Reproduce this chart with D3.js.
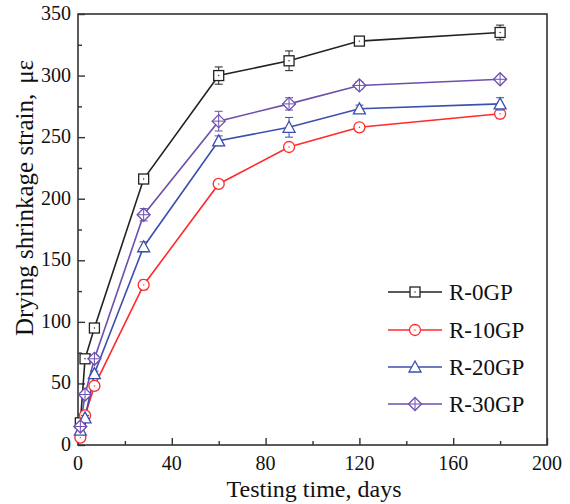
<!DOCTYPE html>
<html>
<head>
<meta charset="utf-8">
<script src="https://cdn.jsdelivr.net/npm/d3@7"></script>
<style>
  body { margin: 0; background: #fff; }
  text { font-family: "Liberation Serif", "Times New Roman", serif; fill: #111; }
</style>
</head>
<body>
<svg width="570" height="504"></svg>
<script>
// testing ages (days)
var days = [1, 3, 7, 28, 60, 90, 120, 180];

// drying shrinkage, microstrain
var r0 = [18, 70, 95, 216, 300, 312, 328, 335];
var r10 = [6, 24, 48, 130, 212, 242, 258, 269];
var r20 = [12, 22, 58, 161, 247, 258, 273, 277];
var r30 = [15, 41, 70, 187, 263, 277, 292, 297];

// error bar half-widths
var r0Err = [2, 3, 3, 3, 7, 8, 2, 6];
var r10Err = [2, 2, 2, 4, 3, 2, 2, 4];
var r20Err = [2, 2, 2, 4, 4, 8, 3, 5];
var r30Err = [2, 2, 3, 5, 8, 5, 3, 2];

var seriesNames = ["R-0GP", "R-10GP", "R-20GP", "R-30GP"];
var seriesColors = ["#222222", "#ff2a2a", "#3b4fae", "#6d4fae"];
var seriesShapes = ["square", "circle", "triangle", "diamond"];

var xTicks = [0, 40, 80, 120, 160, 200];
var yTicks = [0, 50, 100, 150, 200, 250, 300, 350];

var svg = d3.select("svg"),
  pLeft = 78, pRight = 547, pTop = 14, pBottom = 445;

var x = d3.scaleLinear().domain([0, 200]).range([pLeft, pRight]);
var y = d3.scaleLinear().domain([0, 350]).range([pBottom, pTop]);

var allVals = [r0, r10, r20, r30];
var allErr = [r0Err, r10Err, r20Err, r30Err];
var series = seriesNames.map((name, i) => ({
  name: name,
  color: seriesColors[i],
  shape: seriesShapes[i],
  points: days.map((d, j) => ({ day: d, val: allVals[i][j], err: allErr[i][j] }))
}));

// frame
svg.append("rect")
  .attr("x", pLeft).attr("y", pTop)
  .attr("width", pRight - pLeft).attr("height", pBottom - pTop)
  .attr("fill", "none").attr("stroke", "#333").attr("stroke-width", 1.6);

// x axis, ticks pointing inward
var xAxis = svg.append("g")
  .attr("transform", "translate(0," + pBottom + ")")
  .call(d3.axisBottom(x).tickValues(d3.range(0, 201, 20)).tickFormat(""));
xAxis.selectAll(".tick line").attr("stroke", "#333").attr("stroke-width", 1.4)
  .attr("y2", (d) => (d % 40 === 0 ? -7 : -4));
xAxis.select(".domain").remove();

svg.append("g").selectAll("text")
  .data(xTicks).enter().append("text")
  .attr("x", (d) => x(d)).attr("y", 470)
  .attr("text-anchor", "middle").attr("font-size", "20px")
  .text((d) => d);

// y axis
var yAxis = svg.append("g")
  .attr("transform", "translate(" + pLeft + ",0)")
  .call(d3.axisLeft(y).tickValues(d3.range(0, 351, 25)).tickFormat(""));
yAxis.selectAll(".tick line").attr("stroke", "#333").attr("stroke-width", 1.4)
  .attr("x2", (d) => (d % 50 === 0 ? 7 : 4));
yAxis.select(".domain").remove();

svg.append("g").selectAll("text")
  .data(yTicks).enter().append("text")
  .attr("x", 71).attr("y", (d) => y(d) + 6)
  .attr("text-anchor", "end").attr("font-size", "20px")
  .text((d) => d);

// axis titles
svg.append("text")
  .attr("x", 314).attr("y", 497)
  .attr("text-anchor", "middle").attr("font-size", "24px")
  .text("Testing time, days");

var yTitle = svg.append("text")
  .attr("transform", "translate(33,198) rotate(-90)")
  .attr("text-anchor", "middle").attr("font-size", "25px");
yTitle.append("tspan").text("Drying shrinkage strain,");
yTitle.append("tspan").attr("dx", 10).text("\u03bc\u03b5");

var line = d3.line().x((d) => x(d.day)).y((d) => y(d.val));

function drawMarker(g, shape, color, cx, cy) {
  var s = 5;
  if (shape === "square") {
    g.append("rect").attr("x", cx - s).attr("y", cy - s).attr("width", 2 * s).attr("height", 2 * s)
      .attr("fill", "#fff").attr("stroke", color).attr("stroke-width", 1.3);
    g.append("circle").attr("cx", cx).attr("cy", cy).attr("r", 0.7).attr("fill", color);
  } else if (shape === "circle") {
    g.append("circle").attr("cx", cx).attr("cy", cy).attr("r", s + 0.5)
      .attr("fill", "#fff").attr("stroke", color).attr("stroke-width", 1.3);
    g.append("circle").attr("cx", cx).attr("cy", cy).attr("r", 0.7).attr("fill", color);
  } else if (shape === "triangle") {
    g.append("path")
      .attr("d", "M" + cx + "," + (cy - s - 1) + "L" + (cx + s + 1) + "," + (cy + s) + "L" + (cx - s - 1) + "," + (cy + s) + "Z")
      .attr("fill", "#fff").attr("stroke", color).attr("stroke-width", 1.3);
  } else {
    var d = s + 1.5;
    g.append("path")
      .attr("d", "M" + cx + "," + (cy - d) + "L" + (cx + d) + "," + cy + "L" + cx + "," + (cy + d) + "L" + (cx - d) + "," + cy + "Z")
      .attr("fill", "#fff").attr("stroke", color).attr("stroke-width", 1.3);
    g.append("path")
      .attr("d", "M" + cx + "," + (cy - d) + "V" + (cy + d) + "M" + (cx - d) + "," + cy + "H" + (cx + d))
      .attr("stroke", color).attr("stroke-width", 1);
  }
}

var plot = svg.append("g");

series.forEach((s) => {
  plot.append("path").datum(s.points)
    .attr("d", line).attr("fill", "none")
    .attr("stroke", s.color).attr("stroke-width", 1.6);
});

series.forEach((s) => {
  var g = plot.append("g");
  s.points.forEach((p) => {
    var cx = x(p.day), y1 = y(p.val + p.err), y2 = y(p.val - p.err);
    g.append("path")
      .attr("d", "M" + cx + "," + y1 + "V" + y2 + "M" + (cx - 4) + "," + y1 + "H" + (cx + 4) + "M" + (cx - 4) + "," + y2 + "H" + (cx + 4))
      .attr("stroke", s.color).attr("stroke-width", 1).attr("fill", "none");
    drawMarker(g, s.shape, s.color, cx, y(p.val));
  });
});

// legend
var legendY = [292, 330, 367, 404];
series.forEach((s, i) => {
  var g = svg.append("g");
  g.append("line").attr("x1", 388).attr("x2", 442)
    .attr("y1", legendY[i]).attr("y2", legendY[i])
    .attr("stroke", s.color).attr("stroke-width", 1.6);
  drawMarker(g, s.shape, s.color, 415, legendY[i]);
  g.append("text").attr("x", 449).attr("y", legendY[i] + 8)
    .attr("font-size", "23px").text(s.name);
});
</script>
</body>
</html>
